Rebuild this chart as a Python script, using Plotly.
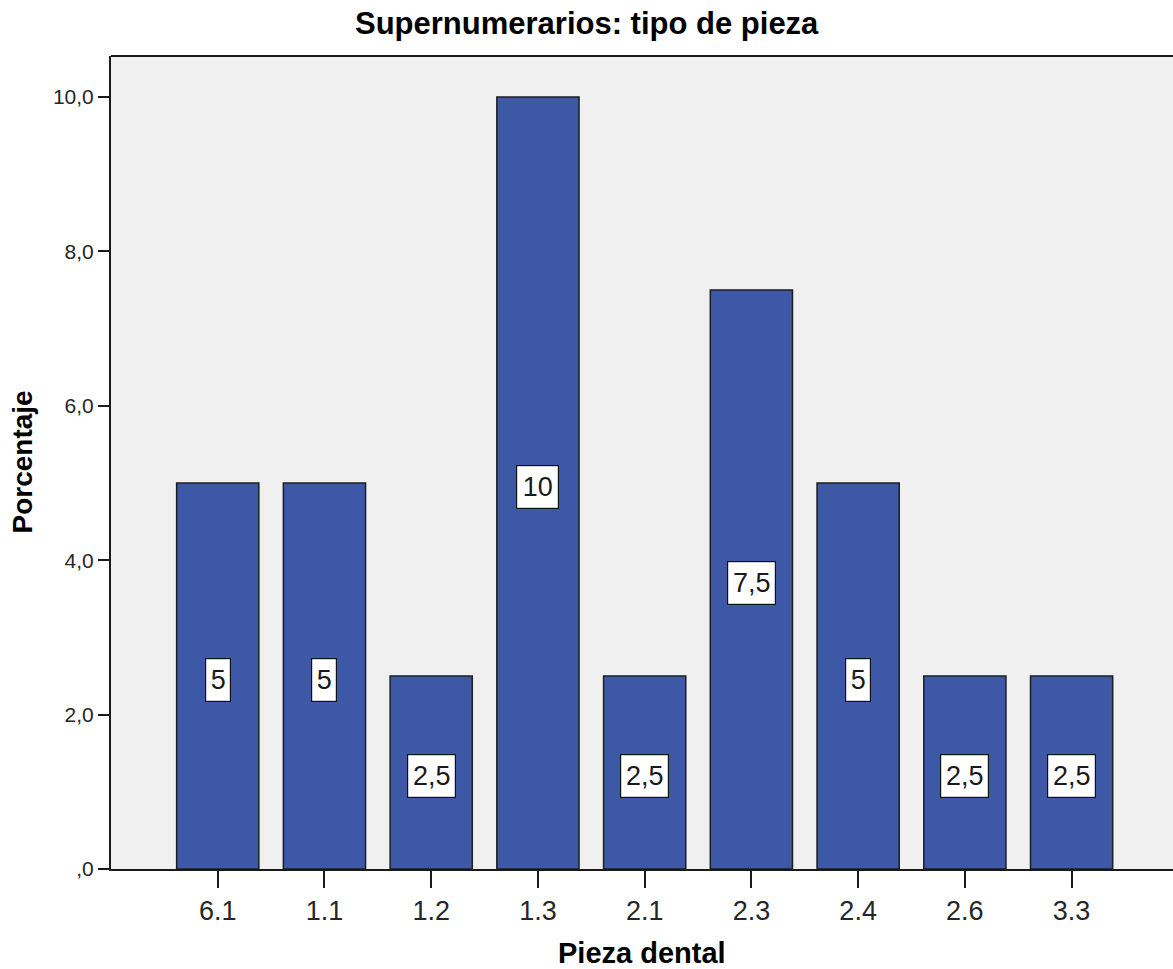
import plotly.graph_objects as go

# Supernumerary teeth by tooth position (percentage of cases)
piezas = ["6.1", "1.1", "1.2", "1.3", "2.1", "2.3", "2.4", "2.6", "3.3"]
porcentaje = [5, 5, 2.5, 10, 2.5, 7.5, 5, 2.5, 2.5]
y_ticks = [0, 2, 4, 6, 8, 10]
y_tick_text = [",0", "2,0", "4,0", "6,0", "8,0", "10,0"]

FONT = "Liberation Sans, Arial"
# label box width by number of characters in the label
BOX_W = {1: 24, 2: 41, 3: 47}


def etiqueta(v):
    s = f"{v:g}"
    return s.replace(".", ",")


fig = go.Figure()
fig.add_trace(go.Bar(
    x=piezas,
    y=porcentaje,
    width=0.77,
    marker=dict(color="#3E58A8", line=dict(color="#1E1E1E", width=1.5)),
    hoverinfo="x+y",
))

# value boxes at the middle of each bar (category index as position)
for i, v in enumerate(porcentaje):
    txt = etiqueta(v)
    fig.add_annotation(
        x=i, y=v / 2, xref="x", yref="y",
        text=txt, showarrow=False,
        font=dict(family=FONT, size=27, color="#1A1A1A"),
        width=BOX_W[len(txt)], height=42, align="center", valign="middle",
        bgcolor="white", bordercolor="#111111", borderwidth=1.2, borderpad=0,
        yshift=-4,
    )

# chart title and axis titles
fig.add_annotation(
    x=0.5, y=1.0, xref="paper", yref="paper", yanchor="middle",
    yshift=33, xshift=-55,
    text="<b>Supernumerarios: tipo de pieza</b>", showarrow=False,
    font=dict(family=FONT, size=31, color="#000000"),
)
fig.add_annotation(
    x=0.5, y=0, xref="paper", yref="paper", yanchor="middle",
    yshift=-84,
    text="<b>Pieza dental</b>", showarrow=False,
    font=dict(family=FONT, size=29, color="#000000"),
)
fig.add_annotation(
    x=0, y=0.5, xref="paper", yref="paper", xanchor="center",
    xshift=-89, textangle=-90,
    text="<b>Porcentaje</b>", showarrow=False,
    font=dict(family=FONT, size=28, color="#000000"),
)

# top frame line of the plot area
fig.add_shape(type="line", xref="paper", yref="paper",
              x0=0, x1=1, y0=1, y1=1,
              line=dict(color="#1A1A1A", width=2))

fig.update_layout(
    width=1173, height=969,
    margin=dict(l=111, r=0, t=56, b=100),
    paper_bgcolor="white",
    plot_bgcolor="#F0F0F0",
    showlegend=False,
)
fig.update_xaxes(
    type="category",
    range=[-1.0, 8.95],
    showline=True, linecolor="#1A1A1A", linewidth=2,
    ticks="outside", ticklen=17, tickwidth=2, tickcolor="#1A1A1A",
    tickfont=dict(family=FONT, size=27, color="#262626"),
    showgrid=False, zeroline=False,
)
fig.update_yaxes(
    range=[0, 10.53],
    tickvals=y_ticks, ticktext=y_tick_text,
    showline=True, linecolor="#1A1A1A", linewidth=2,
    ticks="outside", ticklen=11, tickwidth=2, tickcolor="#1A1A1A",
    tickfont=dict(family=FONT, size=21, color="#262626"),
    showgrid=False, zeroline=False,
)

fig.write_html("out.html")
